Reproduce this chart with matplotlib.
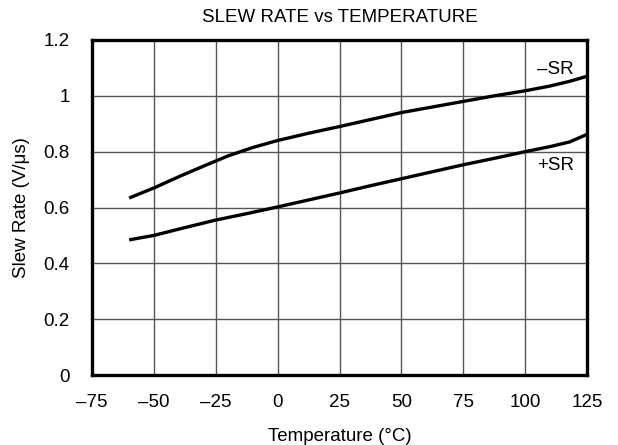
import matplotlib
matplotlib.use("Agg")
import matplotlib.pyplot as plt

plt.rcParams['font.family'] = ['Liberation Sans', 'DejaVu Sans']

temp_neg = [-60, -50, -40, -30, -20, -10, 0, 12.5, 25, 37.5, 50, 62.5, 75, 87.5, 100, 110, 118, 125]
sr_neg = [0.634, 0.67, 0.71, 0.748, 0.785, 0.815, 0.84, 0.866, 0.89, 0.915, 0.94, 0.96, 0.98, 1.0, 1.018, 1.035, 1.052, 1.07]

temp_pos = [-60, -50, -37.5, -25, -12.5, 0, 12.5, 25, 37.5, 50, 62.5, 75, 87.5, 100, 110, 118, 125]
sr_pos = [0.484, 0.50, 0.528, 0.555, 0.578, 0.602, 0.627, 0.652, 0.678, 0.703, 0.728, 0.753, 0.776, 0.80, 0.818, 0.835, 0.862]

x_ticks = [-75, -50, -25, 0, 25, 50, 75, 100, 125]
x_labels = ['\u201375', '\u201350', '\u201325', '0', '25', '50', '75', '100', '125']
y_ticks = [0, 0.2, 0.4, 0.6, 0.8, 1.0, 1.2]
y_labels = ['0', '0.2', '0.4', '0.6', '0.8', '1', '1.2']

FS = 13.5

fig = plt.figure(figsize=(6.18, 4.45), dpi=100)
ax = fig.add_axes([92/618, 1 - 375/445, (587-92)/618, (375-40)/445])

ax.plot(temp_neg, sr_neg, color='black', lw=2.4, solid_capstyle='butt')
ax.plot(temp_pos, sr_pos, color='black', lw=2.4, solid_capstyle='butt')

ax.set_xlim(-75, 125)
ax.set_ylim(0, 1.2)
ax.set_xticks(x_ticks)
ax.set_xticklabels(x_labels)
ax.set_yticks(y_ticks)
ax.set_yticklabels(y_labels)
ax.tick_params(length=0, labelsize=FS)
ax.tick_params(axis='x', pad=14)
ax.tick_params(axis='y', pad=16)
ax.grid(True, color='#555555', lw=1.0)
ax.set_axisbelow(True)
for s in ax.spines.values():
    s.set_linewidth(2.4)
    s.set_color('black')

ax.text(112, 1.095, '\u2013SR', fontsize=FS, ha='center', va='center')
ax.text(112.5, 0.75, '+SR', fontsize=FS, ha='center', va='center')

ax.set_title('SLEW RATE vs TEMPERATURE', fontsize=FS, pad=13)
ax.set_xlabel('Temperature (\u00b0C)', fontsize=FS, labelpad=12)
ax.set_ylabel('Slew Rate (V/\u03bcs)', fontsize=FS, labelpad=10)

fig.savefig('out.png', dpi=100)
